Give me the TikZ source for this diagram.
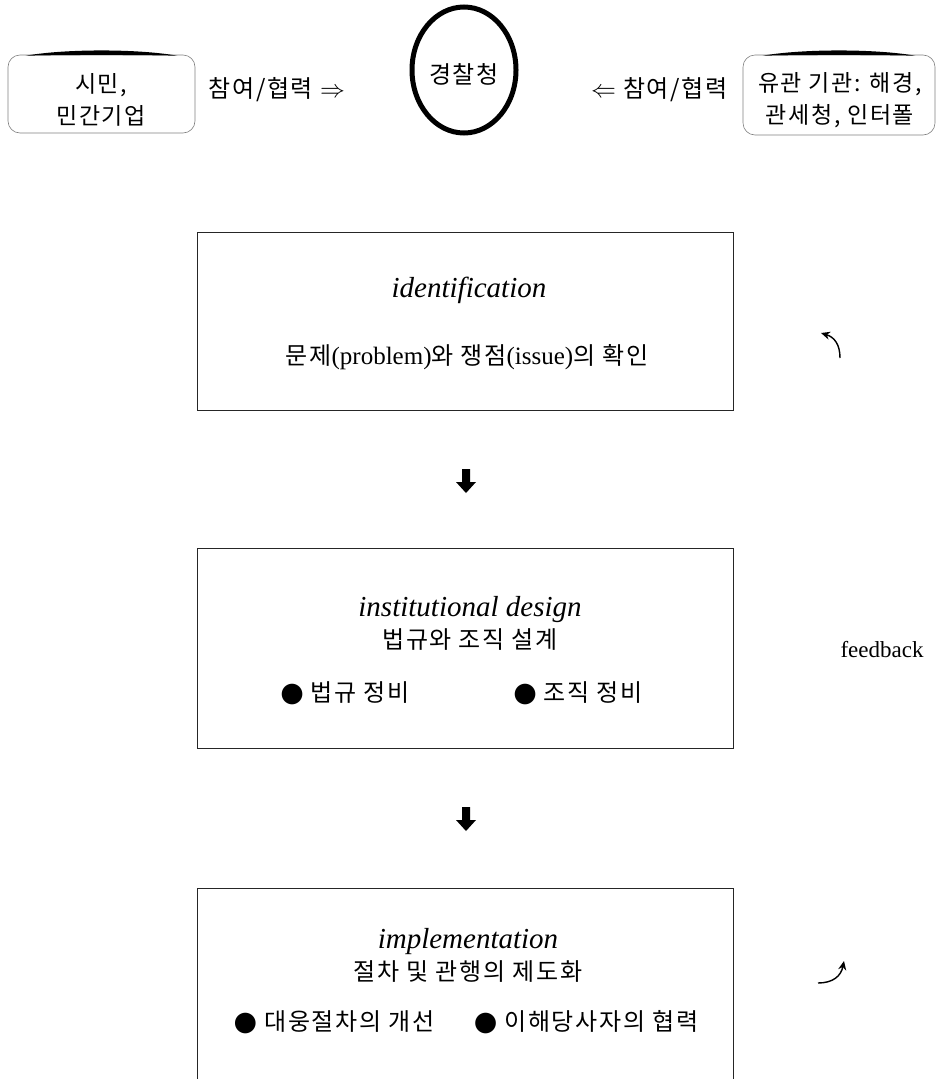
\documentclass[tikz,border=0pt]{standalone}
\usepackage{fontspec}
\setmainfont{Liberation Serif}
\newfontfamily\kr[LetterSpace=7]{Noto Sans CJK KR}
\newfontfamily\sym{DejaVu Sans}
\newcommand{\blt}{{\sym\fontsize{27}{27}\selectfont ●}}
\usetikzlibrary{arrows.meta,shapes.geometric,calc}
\begin{document}
\begin{tikzpicture}[x=1pt,y=-1pt,
  sidebox/.style={draw=black!50, line width=0.6pt, rounded corners=12pt},
  sidetxt/.style={align=center, font=\kr\fontsize{23}{32}\selectfont},
  mainbox/.style={draw=black!85, line width=0.9pt},
  krtxt/.style={font=\kr\fontsize{24}{28}\selectfont},
  toptxt/.style={font=\kr\fontsize{24}{28}\selectfont},
  ttl/.style={font=\fontsize{29}{32}\selectfont\itshape},
  fbarrow/.style={line width=1.4pt, -{Stealth[length=9pt,width=8pt]}}
]
\useasboundingbox (0,0) rectangle (937,1079);
\clip (0,0) rectangle (937,1079);

% top row
\node[sidebox, minimum width=187pt, minimum height=78pt] (cit) at (101.5,94) {};
\node[sidetxt] (citt) at (101,100) {시민,\\민간기업};
\fill ([xshift=18pt,yshift=-1pt]cit.north west) .. controls +(40,-7) and +(-40,-7) .. ([xshift=-18pt,yshift=-1pt]cit.north east)
  .. controls +(-40,-1) and +(40,-1) .. ([xshift=18pt,yshift=-1pt]cit.north west) -- cycle;
\node[toptxt, anchor=west] (lab1) at (205,90) {참여/협력 $\Rightarrow$};
\node[draw, ellipse, line width=5pt, minimum width=104pt, minimum height=126pt, inner sep=0pt] (pol) at (464,70) {};
\node[toptxt] (polt) at (464,74) {경찰청};
\node[toptxt, anchor=east] (lab2) at (731,90) {$\Leftarrow$ 참여/협력};
\node[sidebox, minimum width=192pt, minimum height=80pt] (org) at (839,95) {};
\node[sidetxt] (orgt) at (840,100) {유관 기관: 해경,\\관세청, 인터폴};
\fill ([xshift=20pt,yshift=-1pt]org.north west) .. controls +(40,-7) and +(-40,-7) .. ([xshift=-20pt,yshift=-1pt]org.north east)
  .. controls +(-40,-1) and +(40,-1) .. ([xshift=20pt,yshift=-1pt]org.north west) -- cycle;

% box 1
\node[mainbox, minimum width=536pt, minimum height=178pt] (b1) at (465,321) {};
\node[ttl] (t1) at (469,290) {identification};
\node[krtxt] (k1) at (467,357) {문제{\rmfamily\fontsize{25}{28}\selectfont (problem)}와 쟁점{\rmfamily\fontsize{25}{28}\selectfont (issue)}의 확인};

% arrow 1
\coordinate (a1) at (466,482);
\fill ($(a1)+(-4,-13)$) -- ($(a1)+(4,-13)$) -- ($(a1)+(4,0)$) -- ($(a1)+(10,0)$) -- ($(a1)+(0,11)$) -- ($(a1)+(-10,0)$) -- ($(a1)+(-4,0)$) -- cycle;

% box 2
\node[mainbox, minimum width=536pt, minimum height=200pt] (b2) at (465,648) {};
\node[ttl] (t2) at (470,610) {institutional design};
\node[krtxt] (k2) at (470,640) {법규와 조직 설계};
\node[krtxt] (p21) at (345,693) {\blt{} 법규 정비};
\node[krtxt] (p22) at (578,693) {\blt{} 조직 정비};

% arrow 2
\coordinate (a2) at (466,820);
\fill ($(a2)+(-4,-13)$) -- ($(a2)+(4,-13)$) -- ($(a2)+(4,0)$) -- ($(a2)+(10,0)$) -- ($(a2)+(0,11)$) -- ($(a2)+(-10,0)$) -- ($(a2)+(-4,0)$) -- cycle;

% box 3 (bottom edge outside the picture)
\draw[mainbox] (197,1095) -- (197,888) -- (733,888) -- (733,1095);
\node[ttl] (t3) at (468,942) {implementation};
\node[krtxt] (k3) at (468,972) {절차 및 관행의 제도화};
\node[krtxt] (p31) at (334,1022) {\blt{} 대웅절차의 개선};
\node[krtxt] (p32) at (586,1022) {\blt{} 이해당사자의 협력};

% feedback
\node[font=\fontsize{23}{26}\selectfont] (fb) at (882,650) {feedback};
\coordinate (f1s) at (840,358);
\coordinate (f1e) at (821,333);
\draw[fbarrow] (f1s) .. controls (840,344) and (834,337) .. (f1e);
\coordinate (f2s) at (818,983);
\coordinate (f2e) at (844,961);
\draw[fbarrow] (f2s) .. controls (833,983) and (841,976) .. (f2e);
\end{tikzpicture}
\end{document}
